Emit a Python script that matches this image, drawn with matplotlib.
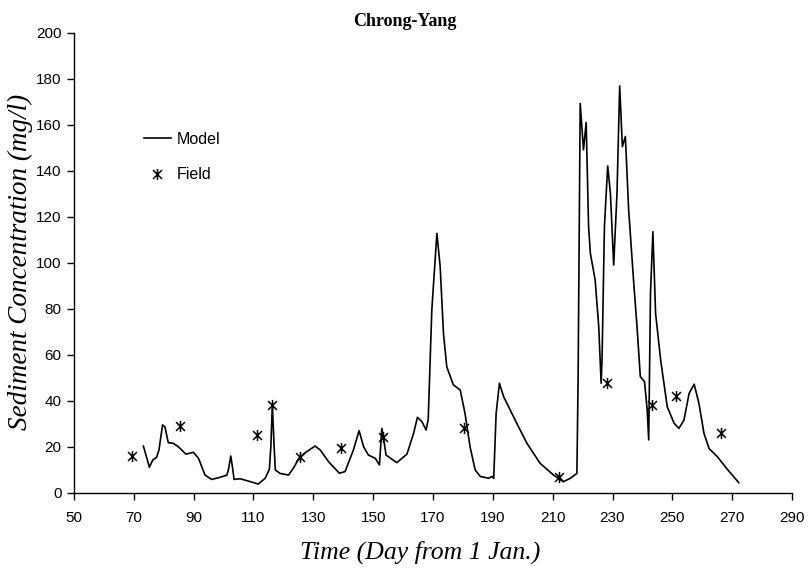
import matplotlib
matplotlib.use("Agg")
import matplotlib.pyplot as plt
from matplotlib.path import Path

# ---- data ----
model_day = [73.2, 75.2, 76.3, 77.6, 78.4, 79.6, 80.4, 81.5, 83.2, 84.9, 87.4, 89.9,
             91.6, 93.8, 96.0, 98.8, 101.1, 101.6, 102.4, 103.1, 103.5, 105.5, 107.7,
             111.6, 113.9, 115.3, 115.8, 116.3, 116.9, 117.3, 118.9, 121.7, 123.3,
             125.4, 127.8, 130.6, 132.3, 135.1, 138.7, 140.6, 143.4, 145.3, 146.8,
             148.4, 150.7, 152.1, 152.9, 153.4, 154.3, 157.9, 161.3, 163.5, 164.8,
             166.3, 167.7, 168.4, 169.6, 171.3, 172.4, 173.5, 174.6, 176.8, 179.1,
             180.7, 182.4, 184.1, 185.8, 188.6, 189.7, 190.3, 191.1, 192.2, 193.6,
             195.8, 198.0, 201.4, 205.8, 210.3, 213.6, 215.9, 218.1, 218.5, 219.2,
             220.3, 221.2, 222.0, 222.6, 224.2, 225.4, 226.2, 226.5, 227.3, 228.4,
             229.3, 230.4, 231.5, 232.4, 233.3, 234.3, 235.4, 237.1, 238.2, 239.3,
             240.7, 241.6, 242.1, 242.7, 243.5, 244.4, 246.1, 248.3, 250.6, 252.2,
             253.9, 255.6, 257.3, 258.9, 260.6, 262.3, 265.1, 268.2, 272.2]
model_conc = [20.4, 11.2, 14.3, 15.5, 18.7, 29.6, 28.8, 21.9, 21.6, 20.1, 16.9, 17.7,
              15.1, 7.8, 5.9, 6.8, 7.8, 10.0, 16.1, 10.0, 5.9, 6.2, 5.4,
              3.9, 6.4, 10.3, 20.2, 38.2, 20.0, 10.0, 8.5, 7.8, 10.7,
              15.5, 18.0, 20.4, 18.7, 13.6, 8.6, 9.3, 18.7, 27.1, 20.1,
              16.5, 15.1, 12.2, 28.1, 24.5, 16.5, 13.2, 16.9, 25.9, 32.9,
              31.0, 27.4, 32.0, 79.5, 112.9, 98.4, 69.4, 54.9, 47.0, 44.8,
              34.6, 20.0, 10.0, 7.2, 6.4, 7.2, 6.4, 34.6, 47.7, 41.9,
              36.1, 30.3, 21.6, 12.9, 7.8, 4.9, 6.4, 8.5, 49.0, 169.4,
              149.2, 161.1, 115.9, 104.2, 92.6, 72.3, 47.7, 57.8, 115.9, 142.2,
              130.3, 99.1, 130.3, 177.0, 150.6, 155.0, 123.1, 91.3, 72.3, 50.6,
              48.4, 36.1, 23.1, 86.8, 113.6, 78.1, 57.8, 37.5, 30.3, 28.1,
              31.7, 43.3, 47.3, 38.9, 25.8, 19.3, 15.7, 10.6, 4.5]

field_day = [69.3, 85.5, 111.3, 116.3, 125.4, 139.2, 153.2, 180.2, 212.1, 228.2, 243.2, 251.2, 266.3]
field_conc = [16.1, 29.1, 25.2, 38.3, 15.5, 19.4, 24.5, 28.4, 6.9, 48.0, 38.3, 42.3, 26.0]

x_ticks = list(range(50, 291, 20))
y_ticks = list(range(0, 201, 20))

# ---- figure ----
W, H = 809, 569
fig = plt.figure(figsize=(W / 100, H / 100), dpi=100)
ax = fig.add_axes([74 / W, 1 - 493 / H, 718 / W, 460 / H])

ax.plot(model_day, model_conc, color="black", lw=1.2, label="Model")

star = Path([(0, -1), (0, 1), (-0.8, -0.8), (0.8, 0.8), (-0.8, 0.8), (0.8, -0.8)],
            [Path.MOVETO, Path.LINETO, Path.MOVETO, Path.LINETO, Path.MOVETO, Path.LINETO])
ax.plot(field_day, field_conc, linestyle="none", marker=star, markersize=8,
        markeredgecolor="black", markerfacecolor="none", markeredgewidth=1.1, label="Field")

ax.set_xlim(50, 290)
ax.set_ylim(0, 200)
ax.set_xticks(x_ticks)
ax.set_yticks(y_ticks)
for s in ["top", "right"]:
    ax.spines[s].set_visible(False)
for s in ["left", "bottom"]:
    ax.spines[s].set_linewidth(1.0)
ax.tick_params(direction="out", length=5, width=1.0, labelsize=11)
ax.tick_params(axis="x", pad=8)
ax.tick_params(axis="y", pad=4)
for lab in ax.get_xticklabels() + ax.get_yticklabels():
    lab.set_fontfamily("Liberation Sans")

leg = ax.legend(loc="upper left", bbox_to_anchor=(0.077, 0.817), frameon=False,
                prop={"family": "Liberation Sans", "size": 11.5},
                handlelength=1.7, labelspacing=1.3, handletextpad=0.35)

fig.text(405 / W, 1 - 21 / H, "Chrong-Yang", ha="center", va="center",
         fontfamily="Liberation Serif", fontweight="bold", fontsize=13)
fig.text(20 / W, 1 - 262 / H, "Sediment Concentration (mg/l)", ha="center", va="center",
         rotation=90, fontfamily="Liberation Serif", fontstyle="italic", fontsize=19.5)
fig.text(420 / W, 1 - 552 / H, "Time (Day from 1 Jan.)", ha="center", va="center",
         fontfamily="Liberation Serif", fontstyle="italic", fontsize=18.5)

fig.savefig("out.png", dpi=100)
